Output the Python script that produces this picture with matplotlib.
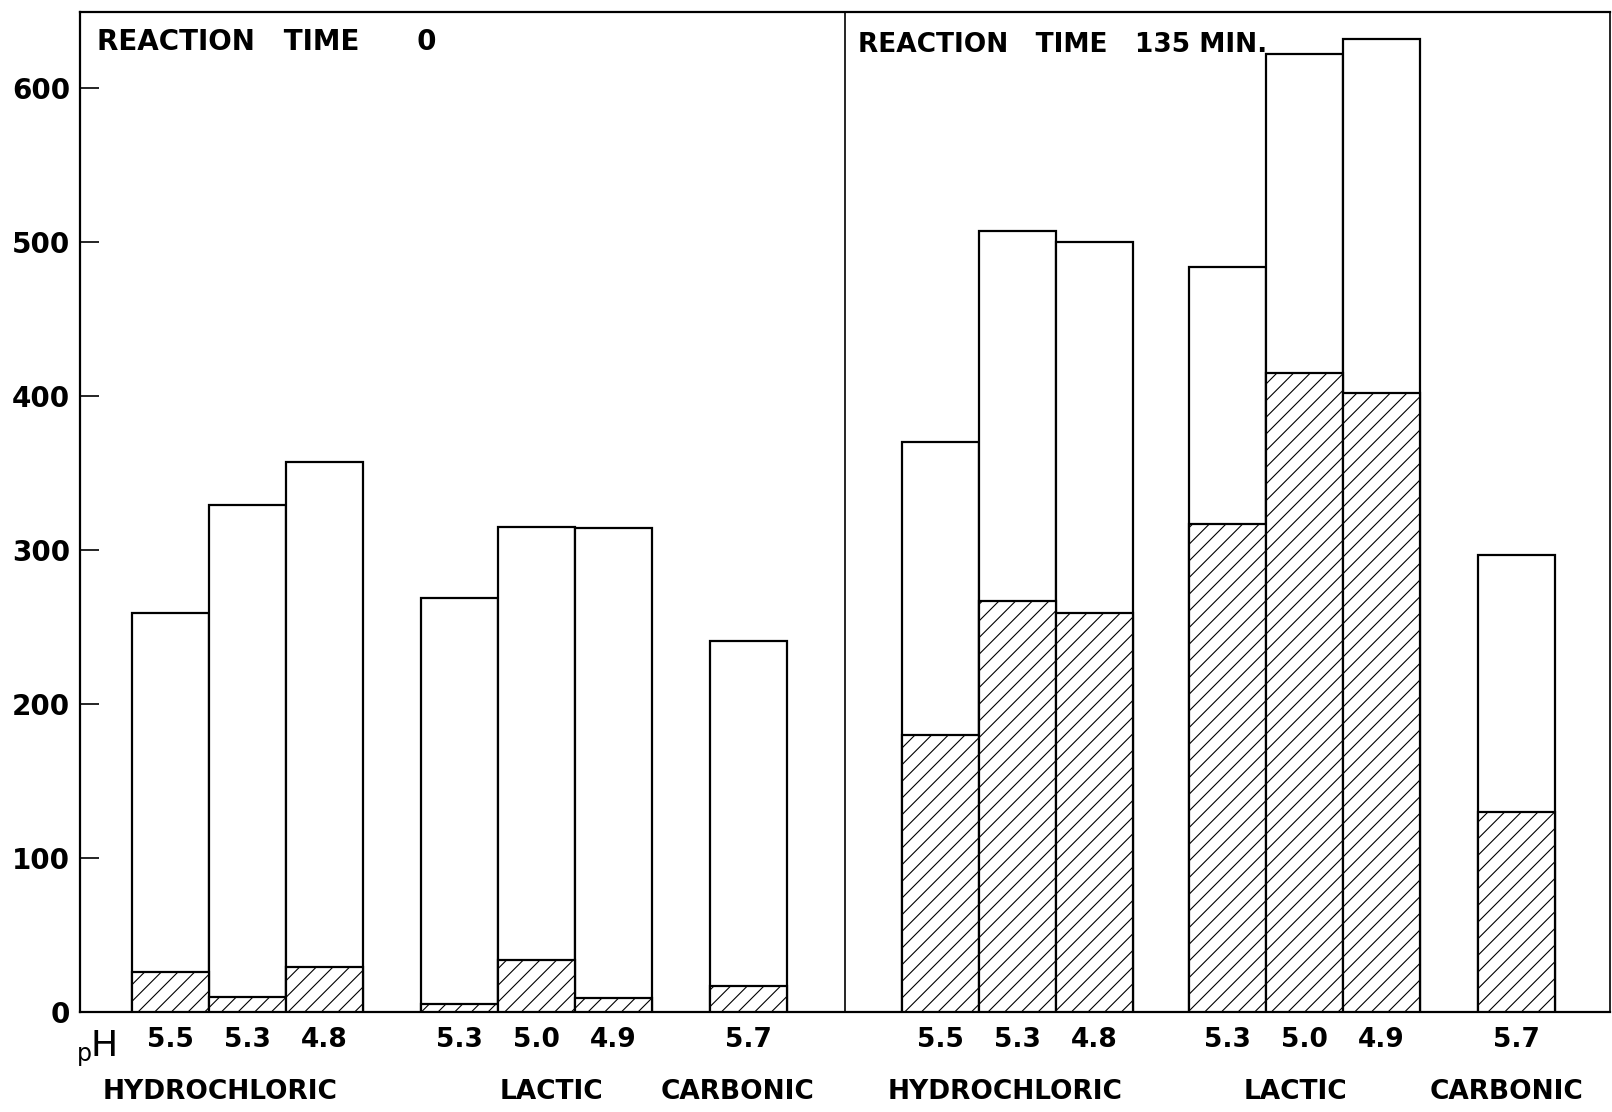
import numpy as np
import matplotlib
matplotlib.use("Agg")
import matplotlib.pyplot as plt

# values
groups = ['HYDROCHLORIC', 'LACTIC', 'CARBONIC']
ph_labels = [['5.5', '5.3', '4.8'], ['5.3', '5.0', '4.9'], ['5.7']]
total_t0 = [259, 329, 357, 269, 315, 314, 241]
hatched_t0 = [26, 10, 29, 5, 34, 9, 17]
total_t135 = [370, 507, 500, 484, 622, 632, 297]
hatched_t135 = [180, 267, 259, 317, 415, 402, 130]
yticks = [0, 100, 200, 300, 400, 500, 600]

# group start positions (bar widths) for each panel
starts_t0 = [0, 3.75, 7.5]
starts_t135 = [10, 13.72, 17.47]

plt.rcParams['font.family'] = 'DejaVu Sans'
plt.rcParams['hatch.linewidth'] = 0.8

fig = plt.figure(figsize=(16.12, 11.12), dpi=100)
ax = fig.add_axes([80/1612, 1-1012/1112, (1610-80)/1612, 1000/1112])
ax.set_xlim(-0.675, 19.19)
ax.set_ylim(0, 1000/1.54)


def draw_panel(starts, totals, hatched):
    xs = []
    labs = []
    for g, s in enumerate(starts):
        for i, lab in enumerate(ph_labels[g]):
            xs.append(s + i)
            labs.append(lab)
    xs = np.array(xs)
    ax.bar(xs, totals, width=1, align='edge', facecolor='white',
           edgecolor='black', linewidth=1.6, zorder=2)
    ax.bar(xs, hatched, width=1, align='edge', facecolor='white',
           edgecolor='black', linewidth=1.6, hatch='//', zorder=3)
    for x, lab in zip(xs, labs):
        ax.text(x + 0.5, -18, lab, ha='center', va='center', fontsize=19,
                fontweight='bold', clip_on=False)


draw_panel(starts_t0, total_t0, hatched_t0)
draw_panel(starts_t135, total_t135, hatched_t135)

# group names
name_x_t0 = [(220-132)/77, (551-132)/77, (737-132)/77]
name_x_t135 = [(1005-132)/77, (1295-132)/77, (1506-132)/77]
for nx, name in zip(name_x_t0 + name_x_t135, groups + groups):
    ax.text(nx, -52, name, ha='center', va='center', fontsize=19,
            fontweight='bold', clip_on=False)

# pH marker
ax.text(-0.62, -27, 'p', ha='center', va='center', fontsize=17, clip_on=False)
ax.text(-0.36, -22, 'H', ha='center', va='center', fontsize=26, clip_on=False)

# divider between panels
ax.axvline(9.26, color='black', linewidth=1.2, zorder=1)

# titles
ax.text(-0.46, 630, 'REACTION   TIME      0', ha='left', va='center',
        fontsize=20, fontweight='bold')
ax.text(9.43, 628, 'REACTION   TIME   135 MIN.', ha='left', va='center',
        fontsize=19, fontweight='bold', zorder=5)

ax.set_yticks(yticks)
ax.set_yticklabels([str(t) for t in yticks], fontsize=20, fontweight='bold')
ax.tick_params(axis='y', direction='in', length=14, width=1.2, pad=7)
ax.set_xticks([])

for side in ['left', 'top', 'bottom']:
    ax.spines[side].set_linewidth(1.6)
ax.spines['right'].set_linewidth(1.2)

fig.savefig('out.png', dpi=100, facecolor='white')
